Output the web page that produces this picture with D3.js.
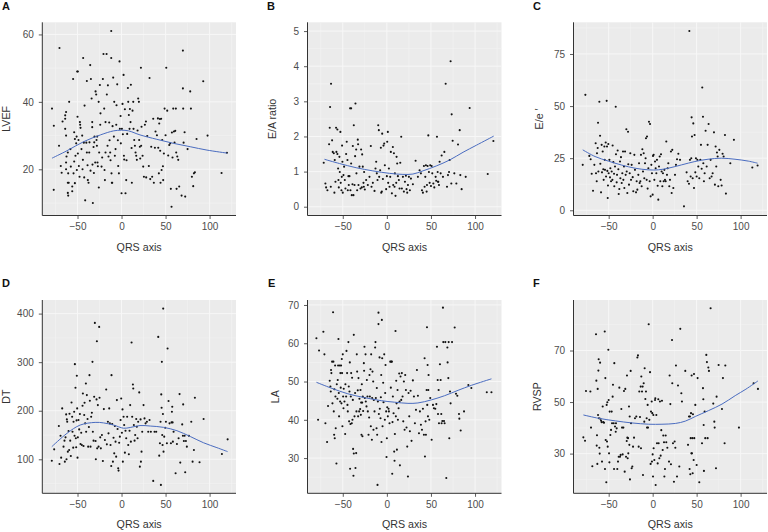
<!DOCTYPE html>
<html><head><meta charset="utf-8">
<script src="https://cdn.jsdelivr.net/npm/d3@7"></script>
<style>
html,body{margin:0;padding:0;background:#fff;}
svg{display:block;font-family:"Liberation Sans",Arial,sans-serif;}
</style></head>
<body><svg id="c" width="768" height="532"></svg>
<script>
// ---------- DATA ----------
const panelLetters = ["A","B","C","D","E","F"];
const yTitles = ["LVEF","E/A ratio","E/e \u2032","DT","LA","RVSP"];
const xTitle = "QRS axis";
const xTicks = [-50,0,50,100];
const yTicksA = [20,40,60];
const yTicksB = [0,1,2,3,4,5];
const yTicksC = [0,25,50,75];
const yTicksD = [100,200,300,400];
const yTicksE = [30,40,50,60,70];
const yTicksF = [30,50,70];

const ptsA = [[-79,38],[-76.9,32.9],[-77,13.9],[-70.5,56],[-71,27],[-69,21],[-68,19],[-67,34.2],[-63,37],[-64,36],[-64,35],[-64,32],[-63,30],[-62.5,23.8],[-63,22],[-61,25],[-63,20],[-60.6,18.8],[-61,16],[-60,16],[-61,13],[-60.6,12.2],[-59.5,40],[-58,26],[-57.6,20.8],[-56,14.9],[-56,13.5],[-55,46.8],[-54.5,18.8],[-53.8,22.3],[-53.8,31],[-53,29],[-53,15.9],[-52.3,24],[-51.5,27.7],[-51,29.7],[-50.8,19.8],[-50.4,49],[-49.6,49],[-50,35.6],[-49.6,24.7],[-48.9,28.7],[-48.5,21],[-47.7,17.8],[-47.3,34],[-47,33.2],[-46.6,32.3],[-45.5,26],[-44.7,30],[-44.3,20],[-43.9,22.8],[-43.6,53],[-42.8,27.9],[-42.4,17.6],[-42,38.9],[-41.3,10.8],[-40,27.9],[-39.4,46.2],[-39.4,25],[-38.6,21.2],[-38.3,16.8],[-37.5,16],[-36.7,25],[-36.4,28],[-35.6,50.9],[-35.2,19.6],[-34.8,46.8],[-34,41],[-33.3,34],[-33.3,32.5],[-33,21.4],[-32.6,10],[-31.8,26.6],[-31.4,18.9],[-31,28],[-30.7,29.7],[-29.9,22],[-29.5,43.1],[-28.8,42.2],[-28.4,28.7],[-28,27],[-27.7,29.7],[-27.3,22],[-26.9,20.9],[-26,40],[-25.8,14.6],[-25.4,25],[-24.6,45],[-24.2,33.2],[-23.9,36.6],[-22.7,20.8],[-22,23.5],[-21.2,46.8],[-20.5,54.2],[-19.7,38],[-19.3,19.8],[-18.9,16.8],[-18.2,34],[-18.2,25],[-17,54.2],[-16.7,42.2],[-15.9,27],[-15.5,44.9],[-14.8,23.8],[-14,33.9],[-13.6,28.6],[-12.9,25],[-12.5,22.7],[-11.7,61],[-11.7,53],[-11.4,18.8],[-11,16],[-10.6,16],[-10.2,32.8],[-9.5,47.2],[-8.7,29.7],[-8.3,40],[-7.6,24],[-6.8,26],[-6,33.2],[-5.7,39],[-4.9,45.2],[-4.2,28.6],[-3.8,21],[-3,18.8],[-2.3,52],[-1.9,32],[-1.1,35.8],[-0.8,27.7],[0,12.9],[0.4,32],[1.1,39.4],[1.5,30.4],[2.3,48],[2.7,24],[3,22.9],[3.8,37.8],[4.5,12.9],[5.3,16.8],[5.7,22.7],[6.4,30.5],[7.2,44.1],[7.6,40],[8.3,36.1],[9.1,32],[9.5,37.9],[10.2,34],[10.6,45.1],[11.4,26.3],[11.7,16],[12.5,37.4],[13.3,40],[13.6,32],[14.4,28.7],[15.2,27],[15.9,25],[16.7,24],[17.4,22.8],[18.2,31.5],[18.9,41],[19.7,40],[20,28.7],[20.8,26.7],[21.2,23.2],[22,50.1],[22.3,27],[22.7,32.6],[23.9,24],[24.6,20.8],[25.4,17.8],[26.5,33.2],[27.7,34.2],[28,17.6],[29.2,29.9],[31,21],[31.8,47.1],[32.6,17.1],[33.7,26.7],[34.8,17.8],[36,35],[36.7,16],[37.9,26.4],[38.6,31.2],[40.2,30.1],[41.3,35.1],[41.7,26.4],[42.4,18.8],[42.8,33.6],[43.6,34.9],[43.9,25.5],[44.3,16],[45,35],[45.5,19.8],[46.2,28.7],[47,20.9],[47.3,16.8],[48.1,24.7],[48.9,38],[50,30.1],[50.8,50.1],[51.9,37.4],[53,24.1],[54.2,27.2],[55.3,27.7],[56,14.2],[56.8,8.9],[57.2,30.9],[57.9,23.5],[58.7,38],[59.5,31.2],[60.2,27.9],[61,31.4],[61.7,38],[62.1,25],[62.5,14.2],[63.3,23.8],[64.4,22.8],[65.5,14.9],[68.2,12.2],[69.7,55.2],[69.7,44],[70,38],[70.5,27.9],[71.6,31],[72.3,11.9],[75,26],[78,43.1],[78.8,38],[79.9,17.8],[81.4,15],[82.2,18.8],[83.3,19.1],[85.2,29],[92.8,46.1],[97.7,30],[113.6,18.9],[119.7,24.9]];
const fitA = [[-79,23.3],[-62,25.5],[-43,28.2],[-24,30.2],[-9,31.4],[0,31.6],[8,31.4],[21,30.2],[40,28.9],[59,27.7],[78,26.7],[97,25.7],[120,24.8]];

const ptsB = [[-71.6,1.25],[-69.7,0.66],[-68.9,0.55],[-67.4,0.47],[-65.5,1.78],[-64.8,2.25],[-64.4,2.84],[-63.6,0.57],[-63.3,3.5],[-62.1,1.89],[-61.4,1.56],[-60.2,1.52],[-59.5,0.4],[-59.1,1.33],[-58.3,0.71],[-57.6,2.25],[-57.2,1.56],[-56.1,2.2],[-56.1,1.5],[-55.3,1.09],[-54.9,0.76],[-54.5,0.55],[-53.8,1.42],[-53.4,0.99],[-52.7,2.13],[-52.3,0.68],[-51.5,0.47],[-51.1,0.85],[-50.8,1.74],[-50.4,1.28],[-50,0.4],[-49.2,0.9],[-48.5,1.14],[-47.7,0.76],[-47,0.52],[-46.2,1.5],[-45.5,1.85],[-44.7,1.33],[-44.3,0.47],[-43.6,0.87],[-43.2,0.62],[-42.4,0.87],[-41.7,2.8],[-41.3,0.47],[-40.5,2.8],[-40.5,1.23],[-39.8,0.33],[-39,0.64],[-38.6,1.73],[-37.9,0.33],[-37.5,2.32],[-36.7,0.62],[-36,1.44],[-35.6,2.94],[-34.8,1.63],[-34.5,0.95],[-33.7,0.47],[-33,1.91],[-32.6,1.78],[-32.2,0.62],[-31.1,1.14],[-29.9,0.52],[-29.2,1.63],[-28.4,0.55],[-28,1.49],[-27.3,1.14],[-26.5,0.68],[-26.1,0.57],[-25.8,0.99],[-25,0.49],[-23.5,0.76],[-21.6,0.62],[-19.7,0.85],[-18.2,1.73],[-17.4,0.57],[-15.9,0.68],[-14,0.45],[-12.9,1.09],[-12.1,1.28],[-11.4,0.95],[-10.6,0.76],[-9.8,2.32],[-9.1,2.18],[-8.7,0.85],[-7.6,1.04],[-6.8,1.68],[-6.4,0.4],[-5.7,0.43],[-5.3,2.08],[-4.5,0.79],[-3.8,1.74],[-3,1.8],[-2.3,1.18],[-0.8,0.5],[0,0.87],[0.4,1.85],[1.1,2.13],[1.5,0.68],[2.3,1.09],[3,0.57],[3.8,0.85],[4.5,1.56],[5.7,0.38],[6.8,1.7],[7.2,0.62],[8,1.52],[8.7,0.57],[9.1,0.95],[9.8,0.31],[10.6,0.68],[11,1.42],[11.7,1.23],[12.5,0.87],[13.6,0.76],[14.4,0.52],[15.2,1.25],[16.3,1.99],[17,0.52],[18.2,0.85],[19.3,0.43],[20.5,0.71],[21.6,0.88],[22.3,0.5],[23.1,0.4],[23.9,0.62],[25,0.85],[26.1,0.47],[27.3,0.8],[29.5,0.64],[32.6,1.31],[35.2,0.85],[37.1,1.04],[38.6,0.95],[39.8,0.47],[40.9,0.4],[42,1.16],[42.8,0.57],[43.6,0.85],[44.3,1.18],[45.1,0.43],[45.5,0.62],[46.2,1.16],[47,2.03],[47.7,0.99],[48.5,0.68],[49.2,1.18],[50,0.59],[50.8,1.16],[51.5,0.95],[52.7,0.66],[53.8,0.55],[55.3,0.85],[56,0.74],[56.8,1.99],[57.6,0.99],[58,0.71],[58.3,0.71],[59.1,0.62],[59.8,1.28],[61,0.95],[62.1,1.46],[63.6,0.85],[65.2,1.56],[66.7,3.5],[68.2,0.57],[69.3,0.9],[70.5,0.99],[71.2,1.33],[72.3,4.14],[73.1,0.66],[73.5,2.63],[74.6,1.88],[76.5,0.95],[78.8,0.66],[80.7,1.77],[82.6,2.18],[83.3,0.9],[84.8,0.5],[89.4,0.85],[93.9,2.81],[114.4,0.93],[120.8,1.87]];
const fitB = [[-70.8,1.35],[-53.8,1.23],[-34.8,1.11],[-15.9,1.02],[3,0.95],[18.2,0.92],[29.5,0.93],[40.9,1.02],[56,1.16],[71.2,1.33],[86.4,1.55],[101.5,1.75],[121.2,2.01]];

const ptsC = [[-79.5,21.8],[-76.5,55.4],[-72,26.1],[-70.5,24.5],[-69.3,17.5],[-67.8,9.4],[-66.3,21.8],[-64.8,32.2],[-64.4,17.8],[-63.6,13.9],[-63.3,27.4],[-62.5,29.9],[-62.1,42],[-61.7,18.6],[-60.6,52.1],[-59.8,35.8],[-59.5,22.3],[-58.7,8.6],[-58,31.4],[-57.6,18.2],[-56.8,28.2],[-56.1,19.7],[-55.7,14.6],[-54.9,30.6],[-54.5,24.2],[-54.2,19.4],[-53.4,32.5],[-53,16.2],[-52.3,52.5],[-51.9,30.6],[-51.5,18.9],[-51.1,5.9],[-50.8,11.9],[-50.4,31.8],[-50,17.8],[-49.2,24.2],[-48.5,15.8],[-48.1,20.2],[-47.3,13.9],[-46.6,18.6],[-45.8,14.6],[-45.5,31.1],[-44.7,23.1],[-43.9,17.5],[-43.6,11.5],[-42.8,21],[-42,49.7],[-41.7,26.9],[-40.9,13.4],[-40.5,17],[-39.8,28.7],[-39,19.7],[-38.6,7.8],[-37.9,10.2],[-37.1,23.4],[-36.7,15.4],[-36,25.5],[-35.2,13.1],[-34.5,17.8],[-33.7,28.2],[-33.3,14.6],[-32.6,21],[-32.2,10.7],[-31.4,28.2],[-30.7,17],[-29.9,38.9],[-29.5,18.6],[-28.8,8.3],[-28,37.7],[-27.7,22.1],[-26.9,12.3],[-26.1,17.8],[-25.4,27.4],[-24.6,14.6],[-23.9,21.8],[-22.7,15.9],[-22,9.1],[-20.8,26.6],[-20.1,19.4],[-18.9,8.6],[-18.2,13.9],[-17.4,9.9],[-16.3,17],[-15.5,22.6],[-14.8,13.1],[-14,13.9],[-13.3,26.6],[-12.5,11.5],[-11.7,29.3],[-11,18.6],[-10.2,27.4],[-9.5,15.4],[-8.7,22.6],[-8,25],[-7.6,34.6],[-6.8,14.6],[-6.4,35.4],[-5.7,10.4],[-4.9,20.2],[-4.2,42.5],[-3.4,13.9],[-3,41.4],[-2.3,6.7],[-1.5,21.8],[-0.8,17.8],[0,7.5],[0.4,26.1],[1.1,26.6],[1.9,14.6],[2.7,23.4],[3.4,20.2],[4.2,17.8],[4.9,24.2],[5.7,11.8],[6.4,5.1],[7.2,21],[8,25.8],[8.7,13.9],[9.5,26.9],[10.2,18.6],[11,11.5],[11.7,17.8],[12.5,13.9],[13.3,19.4],[14,14.6],[14.8,13.9],[15.5,33],[16.3,17],[17,20.2],[17.8,22.6],[18.9,11.5],[19.7,14.6],[20.8,28.2],[21.6,8.3],[22.3,29],[23.5,10.7],[25.4,17],[26.5,21.8],[27.7,24.5],[29.2,27.1],[31.1,24.2],[35.6,1.9],[38.6,18.2],[39.8,13.9],[41.3,12.7],[41.7,86],[42.4,24.2],[43.2,16.2],[43.9,25],[44.3,44.6],[44.7,35.4],[45.5,15.4],[46.2,41.7],[47,10.7],[47.7,36.1],[48.5,18.2],[49.2,25],[50,16.2],[50.8,24.2],[51.9,21],[53,15.4],[54.2,24.2],[54.9,31.4],[55.7,19.9],[56.4,58.9],[57.2,44.9],[57.6,22.6],[58.3,13.9],[59.1,17.8],[60.2,38.2],[61.4,21],[62.5,31.4],[63.6,41.4],[64.8,15.4],[65.9,24.2],[67,16.2],[68.2,17.8],[69.7,37.4],[70.8,12.3],[71.6,30.6],[72.3,21],[73.1,27.7],[73.9,25.8],[74.6,11.5],[75.8,29],[77.3,14.6],[78.4,11.9],[79.5,27.1],[80.7,25.8],[82.2,36.1],[83.3,8],[88.3,22.6],[92.4,33.8],[113.3,20.5],[119.3,21.5]];
const fitC = [[-79.5,29],[-65.5,25.8],[-50.4,23.6],[-35.2,21.7],[-20,20.2],[-4.9,19.4],[6.4,19.4],[17.8,20.2],[33,21.8],[48,23.4],[63,24.5],[78,25],[93.6,24.5],[108.7,23.6],[119.3,22.6]];

const ptsD = [[-79.2,97],[-76.5,120.5],[-71.2,168.5],[-70.5,90.4],[-69.3,148.6],[-68.6,103.4],[-67.4,204.8],[-65.9,126],[-64.8,138.4],[-64.4,95.2],[-63.6,145.2],[-62.9,192.5],[-62.5,100],[-62.1,182.2],[-61.7,177.4],[-61,115.8],[-60.2,158.2],[-59.5,119.2],[-59.1,193.8],[-58.3,138.4],[-57.6,106.8],[-56.8,217.1],[-56.1,187.7],[-55.7,156.8],[-54.9,124],[-54.5,177.4],[-53.8,198],[-53.4,148.6],[-53,295.9],[-52.3,247.3],[-51.9,143.2],[-51.5,124.7],[-51.1,180.1],[-50.8,271.9],[-50.4,204.8],[-50,103.4],[-49.6,145.2],[-48.9,180.8],[-48.1,161.6],[-47.3,193.2],[-46.6,131.5],[-45.8,154.8],[-45.1,129.5],[-44.3,210.3],[-43.9,235.6],[-43.2,127.4],[-42.4,191.1],[-42,216.4],[-41.3,174],[-40.5,256.2],[-40.2,156.8],[-39.4,232.2],[-38.6,182.9],[-37.9,126],[-37.1,166.4],[-36.4,273.3],[-36,220.5],[-35.2,126],[-34.5,187.7],[-33.7,195.9],[-33,300.7],[-32.6,156.8],[-31.8,138.4],[-31.1,228.8],[-30.3,380.8],[-29.5,137.7],[-29.2,100],[-28.4,223.3],[-28,343.2],[-27.7,122.6],[-26.9,211.6],[-26.1,126],[-25.4,372.6],[-25,226.7],[-24.2,145.2],[-23.5,122.6],[-22.3,150],[-21.2,96.6],[-20.1,203.4],[-18.9,139.7],[-17.4,243.8],[-16.7,130.8],[-15.5,177.4],[-14.8,153.4],[-14,204.8],[-13.3,174],[-12.5,129.5],[-11.7,86.3],[-11.4,273.3],[-10.6,172.6],[-9.8,95.2],[-9.1,144.5],[-8.3,112.3],[-7.6,168.5],[-6.8,136.3],[-6.1,105.5],[-5.3,221.9],[-4.5,162.3],[-3.8,81.5],[-3.4,76.7],[-2.7,134.2],[-1.9,146.6],[-1.1,180.8],[-0.4,225.3],[0.4,154.8],[1.1,202.7],[1.5,95.2],[2.3,187.7],[3,170.5],[3.8,113.7],[4.5,158.9],[5.3,143.2],[6.4,187.7],[7.6,129.5],[8.3,110.3],[9.1,158.9],[9.8,211.6],[10.6,136.3],[11.4,340.4],[12.1,187.7],[12.9,254.1],[13.3,245.9],[14,170.5],[14.8,138.4],[15.5,150],[16.7,182.9],[17.4,167.1],[18.2,143.2],[18.9,177.4],[20.1,237.7],[20.8,84.9],[21.6,182.2],[22,95.2],[22.7,115.8],[23.5,156.8],[25,211.6],[26.1,184.2],[27.3,174],[28.8,177.4],[30.3,156.8],[31.8,180.8],[33.3,156.8],[36,55.5],[37.5,156.8],[39.4,156.8],[41.7,352],[42.8,107.5],[43.6,132.9],[44.3,177.4],[44.7,47.3],[45.1,233.6],[45.5,206.2],[45.8,300.7],[46.2,150],[46.6,129.5],[47,193.2],[47.3,410.3],[47.7,115.8],[48.5,146.6],[49.6,165.1],[50.4,177.4],[51.5,132.9],[52.3,328.1],[53.4,219.9],[54.5,174],[56.1,132.9],[56.8,176],[57.2,197.9],[57.6,208.2],[58,176],[58.3,136.3],[59.1,156.8],[61.4,71.2],[62.9,131.5],[64.8,143.2],[65.9,234.2],[66.7,93.2],[68.9,171.9],[69.7,148.6],[70,213],[70.8,137.7],[71.6,148.6],[72.3,73.3],[73.1,137.7],[74.2,126],[76.5,148.6],[79.2,177.4],[80.7,95.2],[82.2,119.2],[83.3,226.7],[88.6,93.8],[93.2,182.9],[114,111],[120.5,141.1]];
const fitD = [[-79.2,126],[-62,153.4],[-47,170.5],[-30,176],[-20.5,175],[-9,170.5],[2.3,164],[9.8,165.5],[21,169.5],[32.6,168.5],[47.7,165.8],[62.9,158.9],[78,147],[93.2,134],[108.3,124],[120.5,115.8]];

const ptsE = [[-79.9,61.3],[-78,40],[-76.9,58.1],[-72,63],[-70.8,57.1],[-69.7,39.1],[-67.8,34.2],[-66.7,43.6],[-64.8,50.2],[-64,48.7],[-63.6,47.4],[-63.3,53],[-62.9,52.2],[-62.1,55.2],[-61.7,44.3],[-61,68.1],[-60.6,55.2],[-60.2,42.2],[-59.8,36.1],[-59.5,48],[-59.1,35.2],[-58.7,54.2],[-58.3,46.1],[-58,37.8],[-57.2,28.6],[-56.8,49.3],[-56.1,45.5],[-55.7,50.4],[-55.3,54.2],[-54.9,61.1],[-54.5,47],[-54.2,40.9],[-53.4,54.2],[-53,44.8],[-52.7,52.2],[-52.3,48.4],[-51.9,54.2],[-51.5,44.3],[-51.1,55.9],[-50.8,52.2],[-50.4,38.3],[-50,57.1],[-49.6,46.1],[-49.2,43],[-48.9,48.1],[-48.1,44.8],[-47.3,36.3],[-47,49.3],[-46.2,46.1],[-45.8,58],[-45.1,52.2],[-44.7,43.9],[-44.3,42.2],[-43.6,60.3],[-43.2,48.7],[-42.8,39.6],[-42.4,47.4],[-42,55],[-41.7,27.2],[-41.3,38.9],[-40.9,46.1],[-40.5,52.2],[-39.8,39.1],[-39.4,51],[-39,40],[-38.6,45.2],[-38.3,32.4],[-37.9,25.4],[-37.5,62.2],[-37.5,31.2],[-36.7,40.9],[-36,47],[-35.6,27.4],[-34.8,31.3],[-34.5,42.2],[-34.1,57.1],[-33.7,52.6],[-33,47.7],[-32.6,40.9],[-32.2,50.9],[-31.4,42.2],[-31.1,45.5],[-30.3,42.8],[-29.9,47.8],[-29.5,41.3],[-29.2,44.5],[-28.8,36.1],[-28.4,49.3],[-28,44.5],[-27.7,35.7],[-27.3,46.1],[-26.9,42.3],[-26.1,54.8],[-25.8,52.8],[-25.4,59.1],[-25,45.7],[-24.2,57.1],[-23.9,44.8],[-23.1,43.5],[-22.7,50.4],[-22,46.1],[-21.6,42.2],[-20.8,36.1],[-20.1,40.6],[-19.7,51.7],[-19.3,46.1],[-18.6,53.2],[-18.2,38.3],[-17.8,57.1],[-17,34.8],[-16.7,45.7],[-16.3,52.6],[-15.5,50],[-15.2,37.4],[-14.8,45.2],[-14,42.2],[-13.3,58.9],[-12.9,60.3],[-12.5,45.7],[-11.7,37.8],[-11.4,48.3],[-11,36.1],[-10.6,23],[-10.2,44.8],[-9.5,68],[-9.5,65],[-9.1,41.5],[-8.3,56.3],[-8,42.9],[-7.2,40.4],[-6.8,45.9],[-6.4,51.7],[-6.1,34.2],[-5.7,66.1],[-5.3,56.1],[-4.9,38.3],[-4.2,49.7],[-3.8,44.6],[-3,57.1],[-2.3,40],[-1.9,47],[-1.5,54.3],[-0.8,42.2],[-0.4,30.3],[0,35.2],[0.4,43.3],[1.1,40.9],[1.9,42.9],[2.3,42.2],[3,39.1],[3.8,55.2],[4.5,48.4],[4.9,55.2],[5.7,55.2],[6.1,25.9],[6.4,39.4],[6.8,46.1],[7.6,41.7],[8.3,31.7],[8.7,29.3],[9.1,36.3],[9.8,63.2],[10.2,40.9],[10.6,50.2],[11,44.3],[11.4,32.2],[12.1,47.8],[12.5,40],[13.3,43],[14,52.1],[14.4,44.8],[14.8,28.1],[15.5,51.3],[16.3,45.2],[17,52.2],[17.8,46.1],[18.6,39.6],[19.3,50],[20.1,37.4],[20.8,51.7],[21.6,47.8],[22.3,38],[23.1,33],[23.9,25.2],[24.6,47],[25.4,40.9],[26.1,37],[26.9,47.6],[28,34.5],[29.5,50.3],[30.7,46.1],[31.8,39.1],[33,42.6],[34.1,53],[35.2,46.3],[36.4,36.5],[37.5,42.2],[38.6,38.7],[39.8,37.4],[40.9,42.9],[42,36.1],[42.8,56.1],[43.2,30.4],[43.9,39.6],[44.3,36.1],[45.1,47.8],[45.5,64.2],[45.8,43.9],[46.2,54.3],[46.6,40.9],[47,47.8],[47.3,51.7],[48.1,40],[49.2,45.7],[50.8,34.8],[52.3,43.9],[53.4,43],[54.9,42.9],[56.1,44.1],[56.8,59.1],[57.6,50.4],[58,41.5],[58.7,47.8],[59.1,39.1],[60.2,54.5],[61,50.4],[61.7,41.5],[62.1,39.1],[62.9,39.7],[63.6,69.3],[64,60.3],[64.8,39.7],[65.5,39.1],[66.3,60.3],[67.4,24.8],[68.6,58.9],[68.9,55],[69.7,50.9],[70.1,60.3],[70.8,35.2],[71.6,47.4],[72.3,44.3],[73.9,60.3],[76.9,64.1],[78.4,46.8],[79.9,46.3],[81.8,41.5],[82.2,40.3],[83.7,37.2],[87.5,42.2],[92.4,49.1],[95.8,48.3],[113.3,47.2],[118.6,47.2]];
const fitE = [[-79.9,49.8],[-63.3,48.3],[-44.3,46.8],[-25.4,45.8],[-6.4,45],[8.7,44.6],[23.9,44.3],[35.2,44.4],[50.4,45.2],[65.5,46.3],[80.7,47.7],[95.8,49],[118.6,50.7]];

const ptsF = [[-78.8,36.3],[-76.9,35],[-75.8,54.3],[-70.8,54.1],[-70.1,40.1],[-68.6,25.1],[-64.4,76.3],[-64,58.3],[-63.6,33.1],[-63.3,37.1],[-62.9,26],[-62.5,55.1],[-62.1,45],[-61.7,62.2],[-61.4,66.6],[-61,43.7],[-60.6,32.3],[-60.2,30],[-59.8,65.3],[-59.5,43.5],[-58.7,42.8],[-58,42.2],[-57.6,26.9],[-56.8,48.3],[-56.1,42.2],[-55.3,42],[-54.5,77.4],[-54.2,24],[-53.8,59.3],[-53.4,35.3],[-52.7,18.9],[-52.3,48.9],[-51.9,34.7],[-51.5,49.9],[-51.1,32.7],[-50.4,70.3],[-50,50.8],[-49.6,30.1],[-49.2,26.6],[-48.9,46.3],[-48.1,37.2],[-47.3,39.2],[-46.6,46.3],[-46.2,41.8],[-45.5,52.1],[-45.1,56.7],[-44.3,41.8],[-43.9,24],[-43.6,65.1],[-42.8,40.5],[-42,38.5],[-41.7,41.8],[-40.9,39.8],[-40.2,24],[-39.4,26.9],[-38.6,28.8],[-37.9,55.6],[-37.1,28.8],[-36.4,29.5],[-35.6,47.3],[-34.8,40.1],[-34.1,29.7],[-33.3,40.1],[-32.6,54.3],[-31.8,23],[-31.1,55.1],[-30.3,28.8],[-29.5,34.9],[-29.2,60.3],[-28.8,36.2],[-28.4,28.2],[-28,36],[-27.7,30.1],[-26.9,48.3],[-26.5,33.4],[-26.1,44.4],[-25.8,20],[-25,62.1],[-24.6,41.8],[-23.9,24.3],[-23.1,25],[-22.3,32.7],[-21.2,36.2],[-20.1,43.7],[-18.6,44.4],[-17.4,67.3],[-16.7,68.1],[-15.9,32.7],[-15.2,54.1],[-14.4,44.2],[-13.6,56],[-13.3,32.1],[-12.9,59.9],[-12.1,54.1],[-11.4,56],[-11,21.7],[-10.2,57.3],[-9.5,42.4],[-9.1,63.1],[-8.3,51.2],[-7.6,54.1],[-6.8,43.7],[-6.4,40.1],[-5.7,48.9],[-5.3,40.1],[-4.5,80.2],[-3.8,43.1],[-3,61.6],[-2.3,26],[-1.9,46.3],[-1.1,50.2],[-0.8,26.9],[-0.4,45.7],[0,29.7],[0.4,21.1],[0.8,45],[1.1,32.1],[1.9,27.5],[2.7,50.8],[3,51.5],[3.4,17.8],[4.2,45],[4.9,34],[5.7,26.2],[6.4,51.1],[6.8,34],[7.6,28.2],[8.3,50.2],[9.1,29.2],[9.8,39.1],[10.6,50.5],[11.4,31.4],[12.1,37],[12.9,34.4],[13.3,21.1],[14,24],[14.8,37],[15.5,34.4],[16.7,32.3],[18.6,26.9],[19.3,60.3],[20.1,49.2],[20.8,25.9],[22,74.1],[22.3,57.3],[23.1,34],[24.2,19.1],[25,34.7],[25.8,32.3],[26.5,64.2],[27.7,21.1],[28.8,56.4],[30.3,25],[31.4,78.4],[32.6,53.4],[33.3,50.2],[37.1,62.1],[40.2,33.4],[41.3,44.4],[42,24],[42.4,44.4],[42.8,22],[43.2,36],[43.6,45.7],[44,30.1],[44.3,60.3],[44.7,30.1],[45.1,36],[45.5,22.4],[45.8,45.3],[46.6,27.5],[47,60.9],[47.3,36],[48.5,48.9],[50,25.6],[51.1,59.3],[53,18.9],[56.1,34],[57.2,55.4],[57.6,51.1],[58,41.1],[58.3,23.3],[59.1,46.3],[59.8,36],[61,68.3],[61.7,65.5],[62.5,36],[63.3,63.4],[64,62.1],[65.9,86.4],[68.9,49.4],[70.1,42.4],[70.5,40.1],[72,24.3],[72.7,52.1],[75,64.4],[78.8,47.3],[79.9,59.3],[81.8,34],[82.6,64.2],[98.1,40.1],[114.8,57.3],[119.7,55.1]];
const fitF = [[-78.8,45],[-61.4,43.7],[-42.4,42.7],[-23.5,41.9],[-4.5,41.4],[10.6,41.4],[25.8,41.7],[37.1,42.6],[48.5,44.4],[63.6,46.7],[78.8,49.2],[93.9,52.5],[106,55],[119.7,58.2]];

// ---------- LAYOUT ----------
const cols = [{l:42.3,r:236},{l:307.5,r:501.5},{l:573.5,r:767}];
const rows = [{t:22.3,b:215.5},{t:300,b:493.3}];
const xDomain = [-90,130];
const panels = [
  {pts:ptsA, fit:fitA, yd:[6.3,63.6], yt:yTicksA, c:0, r:0, titleX:6,   letterX:2},
  {pts:ptsB, fit:fitB, yd:[-0.25,5.25], yt:yTicksB, c:1, r:0, titleX:272, letterX:267},
  {pts:ptsC, fit:fitC, yd:[-2.5,90.2], yt:yTicksC, c:2, r:0, titleX:539, letterX:533},
  {pts:ptsD, fit:fitD, yd:[30,428], yt:yTicksD, c:0, r:1, titleX:6,   letterX:2},
  {pts:ptsE, fit:fitE, yd:[20.8,71.3], yt:yTicksE, c:1, r:1, titleX:275, letterX:268},
  {pts:ptsF, fit:fitF, yd:[14.6,89.6], yt:yTicksF, c:2, r:1, titleX:537, letterX:533}
];

const svg = d3.select("#c");
panels.forEach((p,i)=>{
  const col = cols[p.c], row = rows[p.r];
  const x = d3.scaleLinear().domain(xDomain).range([col.l,col.r]);
  const y = d3.scaleLinear().domain(p.yd).range([row.b,row.t]);
  const g = svg.append("g");
  g.append("rect").attr("x",col.l).attr("y",row.t).attr("width",col.r-col.l).attr("height",row.b-row.t).attr("fill","#ebebeb");
  const step = p.yt[1]-p.yt[0];
  const yMinor = [];
  for (let v=p.yt[0]-step/2; v<=p.yd[1]; v+=step) if (v>=p.yd[0]) yMinor.push(v);
  const xMinor = [-75,-25,25,75,125];
  g.selectAll(".ymin").data(yMinor).join("line").attr("x1",col.l).attr("x2",col.r)
    .attr("y1",d=>y(d)).attr("y2",d=>y(d)).attr("stroke","#f3f3f3").attr("stroke-width",0.6);
  g.selectAll(".xmin").data(xMinor).join("line").attr("y1",row.t).attr("y2",row.b)
    .attr("x1",d=>x(d)).attr("x2",d=>x(d)).attr("stroke","#f3f3f3").attr("stroke-width",0.6);
  g.selectAll(".ymaj").data(p.yt).join("line").attr("x1",col.l).attr("x2",col.r)
    .attr("y1",d=>y(d)).attr("y2",d=>y(d)).attr("stroke","#f7f7f7").attr("stroke-width",1);
  g.selectAll(".xmaj").data(xTicks).join("line").attr("y1",row.t).attr("y2",row.b)
    .attr("x1",d=>x(d)).attr("x2",d=>x(d)).attr("stroke","#f7f7f7").attr("stroke-width",1);
  g.selectAll(".pt").data(p.pts).join("circle").attr("cx",d=>x(d[0])).attr("cy",d=>y(d[1]))
    .attr("r",1.05).attr("fill","#111");
  g.append("path").datum(p.fit).attr("fill","none").attr("stroke","#4a6cc0").attr("stroke-width",1)
    .attr("d", d3.line().x(d=>x(d[0])).y(d=>y(d[1])).curve(d3.curveCatmullRom));
  const xa = g.append("g").attr("transform",`translate(0,${row.b})`)
    .call(d3.axisBottom(x).tickValues(xTicks).tickSize(3.5).tickPadding(4).tickFormat(d=>d<0?"\u2212"+Math.abs(d):String(d)));
  const ya = g.append("g").attr("transform",`translate(${col.l},0)`)
    .call(d3.axisLeft(y).tickValues(p.yt).tickSize(3.5).tickPadding(5).tickFormat(d=>String(d)));
  [xa,ya].forEach(a=>{
    a.select(".domain").remove();
    a.selectAll(".tick line").attr("stroke","#333").attr("stroke-width",0.8);
    a.selectAll(".tick text").attr("fill","#4d4d4d").attr("font-size",10)
      .attr("font-family","'Liberation Sans',Arial,sans-serif");
  });
  g.append("line").attr("x1",col.l).attr("x2",col.r).attr("y1",row.b).attr("y2",row.b).attr("stroke","#333").attr("stroke-width",1);
  g.append("line").attr("x1",col.l).attr("x2",col.l).attr("y1",row.t).attr("y2",row.b).attr("stroke","#333").attr("stroke-width",1);
  g.append("text").attr("x",(col.l+col.r)/2).attr("y",row.b+35).attr("text-anchor","middle")
    .attr("font-size",10.7).attr("fill","#333").text(xTitle);
  const cy = (row.t+row.b)/2;
  g.append("text").attr("transform",`translate(${p.titleX+3.6},${cy}) rotate(-90)`).attr("text-anchor","middle")
    .attr("font-size",10.7).attr("fill","#333").text(yTitles[i]);
  g.append("text").attr("x",p.letterX).attr("y",row.t-12.8).attr("font-size",11).attr("font-weight","bold")
    .attr("fill","#111").text(panelLetters[i]);
});
</script></body></html>
